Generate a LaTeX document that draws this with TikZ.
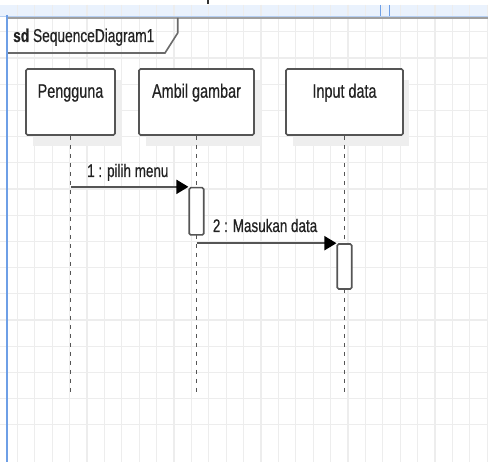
\documentclass[tikz,border=0pt]{standalone}
\usepackage{fontspec}
\setmainfont{Liberation Sans}[FakeBold=0.6]
\usetikzlibrary{arrows.meta,calc}
\definecolor{gridc}{HTML}{EDEDED}
\definecolor{bandc}{HTML}{EAF2FD}
\definecolor{bluelnc}{HTML}{6E9FE6}
\definecolor{linec}{HTML}{555555}
\definecolor{framec}{HTML}{6A6A6A}
\definecolor{shadowc}{HTML}{EEEEEE}
\definecolor{textc}{HTML}{222222}
\newcommand\tallt[1]{\scalebox{0.96}[1.3]{#1}}
\begin{document}
\begin{tikzpicture}[x=1pt,y=-1pt,
  lifebox/.style={draw=linec, line width=1.6pt, fill=white, rounded corners=1.5pt,
    minimum height=66pt, inner sep=0pt},
  actbox/.style={draw=linec, line width=1.6pt, fill=white, rounded corners=1.5pt,
    minimum width=14.5pt, inner sep=0pt},
  lifeline/.style={draw=linec, line width=1.6pt, dash pattern=on 4.5pt off 4.5pt},
  msg/.style={draw=linec, line width=1.8pt, -{Triangle[length=12pt,width=14pt,color=black]}},
  boxlbl/.style={inner sep=0pt, anchor=base, text=textc, font=\fontsize{15}{17}\selectfont},
  msglbl/.style={inner sep=0pt, anchor=base west, text=textc, font=\fontsize{14}{16}\selectfont},
  gridln/.style={draw=gridc, line width=1.2pt}]
\useasboundingbox (0,0) rectangle (488,462);
\clip (0,0) rectangle (488,462);
\fill[white] (0,0) rectangle (488,462);
% top band
\fill[bandc] (0,5) rectangle (488,16.5);
% grid
\foreach \k in {1,...,28} { \draw[gridln] (\k*17.4,5) -- (\k*17.4,462); }
\foreach \k in {0,...,15} { \draw[gridln] (0,31.8+\k*26.2) -- (488,31.8+\k*26.2); }
\draw[draw=bluelnc!50, line width=0.8pt] (0,16.3) -- (488,16.3);
\draw[draw=gray!75, line width=1.6pt] (8,17.9) -- (488,17.9);
\draw[draw=bluelnc, line width=1pt] (380.7,5) -- (380.7,16.5);
\draw[draw=bluelnc, line width=1pt] (389,5) -- (389,16.5);
\draw[draw=black!80, line width=1.5pt] (208,0) -- (208,4.5);
\draw[draw=bluelnc, line width=1.8pt] (7.3,15) -- (7.3,462);
% frame label
\draw[draw=framec, line width=1.6pt] (8,53) -- (165,53) -- (177.7,33) -- (177.7,18);
\node[anchor=base west, inner sep=0pt, text=textc, font=\fontsize{14.3}{16}\selectfont] (title) at (13,42)
  {\tallt{\textbf{sd} SequenceDiagram1}};
% shadows
\fill[shadowc] (33,80) rectangle (122,146);
\fill[shadowc] (146,80) rectangle (261,146);
\fill[shadowc] (293,80) rectangle (409,146);
% lifeline boxes
\node[lifebox, minimum width=89pt] (p) at (70.5,102) {};
\node[lifebox, minimum width=115pt] (am) at (196.5,102) {};
\node[lifebox, minimum width=117pt] (inp) at (344.5,102) {};
\node[boxlbl] (pl) at ($(p.north)+(0,29.5)$) {\tallt{Pengguna}};
\node[boxlbl] (aml) at ($(am.north)+(0,29.5)$) {\tallt{Ambil gambar}};
\node[boxlbl] (inpl) at ($(inp.north)+(0,29.5)$) {\tallt{Input data}};
% lifelines
\draw[lifeline] (p.south) -- ++(0,261);
\draw[lifeline] (am.south) -- ++(0,261);
\draw[lifeline] (inp.south) -- ++(0,261);
% activations
\node[actbox, minimum height=47.3pt] (a1) at (196.5,211.3) {};
\node[actbox, minimum height=45pt] (a2) at (344.5,266.5) {};
% messages
\draw[msg] (p.south |- a1.north west) -- (a1.north west);
\draw[msg] (am.south |- a2.north west) -- (a2.north west);
\node[msglbl] (m1) at (87,177) {\tallt{1 : pilih menu}};
\node[msglbl] (m2) at (212.7,232) {\tallt{2 : Masukan data}};
\end{tikzpicture}
\end{document}
